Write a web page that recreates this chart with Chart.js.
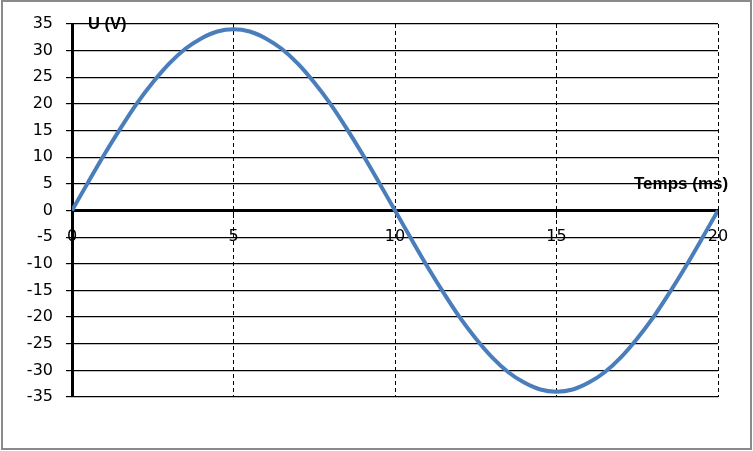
<!DOCTYPE html>
<html>
<head>
<meta charset="utf-8">
<script src="https://cdn.jsdelivr.net/npm/chart.js@4/dist/chart.umd.min.js"></script>
<style>
  html, body { margin: 0; padding: 0; background: #fff; }
  #wrap { position: relative; width: 753px; height: 451px; overflow: hidden; }
  #chart { position: absolute; left: 0; top: 0; }
  #frame { position: absolute; left: 1px; top: 0; width: 751px; height: 450px; box-sizing: border-box; border: 2px solid #8a8a8a; pointer-events: none; }
  .title { position: absolute; font: bold 16.5px "Liberation Sans", sans-serif; color: #000; white-space: nowrap; line-height: 1; }
</style>
</head>
<body>
<div id="wrap">
  <canvas id="chart" width="753" height="451"></canvas>
  <div class="title" style="left:88px;top:15px">U (V)</div>
  <div class="title" style="left:634px;top:175px;font-size:17px">Temps (ms)</div>
  <div id="frame"></div>
</div>
<script>
// values (U in V vs time in ms)
const timeMs = [0, 0.5, 1, 1.5, 2, 2.5, 3, 3.5, 4, 4.5, 5, 5.5, 6, 6.5, 7, 7.5, 8, 8.5, 9, 9.5,
  10, 10.5, 11, 11.5, 12, 12.5, 13, 13.5, 14, 14.5, 15, 15.5, 16, 16.5, 17, 17.5, 18, 18.5, 19, 19.5, 20];
const voltage = [0, 5.3, 10.5, 15.4, 20.0, 24.0, 27.5, 30.3, 32.3, 33.6, 34, 33.6, 32.3, 30.3, 27.5, 24.0, 20.0, 15.4, 10.5, 5.3,
  0, -5.3, -10.5, -15.4, -20.0, -24.0, -27.5, -30.3, -32.3, -33.6, -34, -33.6, -32.3, -30.3, -27.5, -24.0, -20.0, -15.4, -10.5, -5.3, 0];

const xMin = 0, xMax = 20, xStep = 5;
const yMin = -35, yMax = 35, yStep = 5;

const tickFont = { family: '"DejaVu Sans", sans-serif', size: 16 };

new Chart(document.getElementById('chart'), {
  type: 'line',
  data: {
    datasets: [{
      data: timeMs.map((t, i) => ({ x: t, y: voltage[i] })),
      borderColor: '#4a7ebb',
      borderWidth: 4,
      pointRadius: 0,
      tension: 0.3,
      fill: false,
    }],
  },
  options: {
    responsive: false,
    animation: false,
    events: [],
    layout: { padding: { top: 24, right: 35, bottom: 54, left: 0 } },
    plugins: { legend: { display: false }, tooltip: { enabled: false } },
    scales: {
      x: {
        type: 'linear',
        position: { y: 0 },
        min: xMin, max: xMax,
        ticks: { stepSize: xStep, color: '#000', font: tickFont, padding: 11, maxRotation: 0 },
        grid: { color: '#000', lineWidth: 1, tickLength: 6 },
        border: { color: '#000', width: 3, dash: [4, 3] },
      },
      y: {
        type: 'linear',
        min: yMin, max: yMax,
        afterFit: s => { s.width = 72; },
        ticks: { stepSize: yStep, color: '#000', font: tickFont, padding: 13 },
        grid: { color: '#000', lineWidth: 1.2, tickLength: 6 },
        border: { color: '#000', width: 3 },
      },
    },
  },
});
</script>
</body>
</html>
